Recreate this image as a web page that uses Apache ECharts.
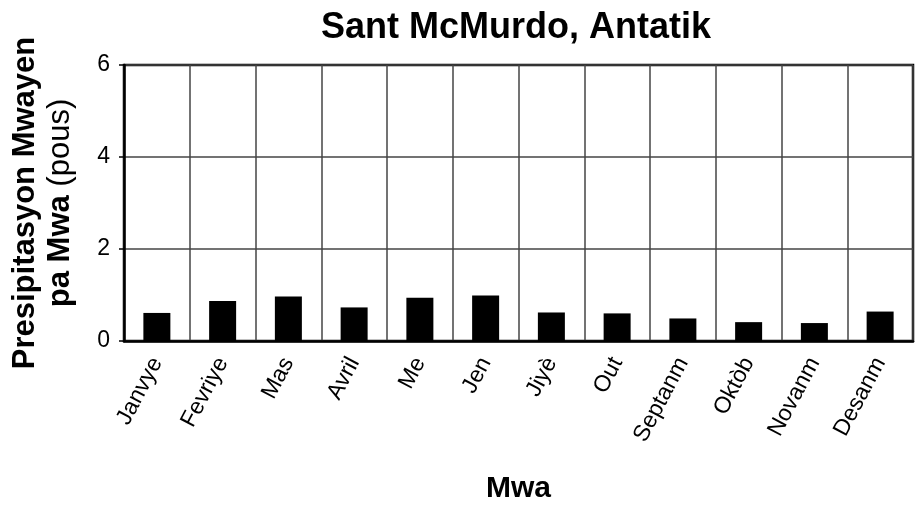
<!DOCTYPE html>
<html>
<head>
<meta charset="utf-8">
<script src="https://cdn.jsdelivr.net/npm/echarts@6/dist/echarts.min.js"></script>
<style>
html,body{margin:0;padding:0;background:#fff;}
#chart{width:921px;height:506px;}
</style>
</head>
<body>
<div id="chart"></div>
<script>
// mwa yo
var months = ['Janvye', 'Fevriye', 'Mas', 'Avril', 'Me', 'Jen', 'Jiyè', 'Out', 'Septanm', 'Oktòb', 'Novanm', 'Desanm'];
// presipitasyon (pous)
var precip = [0.61, 0.87, 0.97, 0.73, 0.94, 0.99, 0.62, 0.60, 0.49, 0.41, 0.39, 0.64];
var yTicks = [0, 2, 4, 6];

var font = '"Liberation Sans", Arial, Helvetica, sans-serif';
var chart = echarts.init(document.getElementById('chart'));

chart.setOption({
  animation: false,
  title: {
    text: 'Sant McMurdo, Antatik',
    left: 511,
    textAlign: 'center',
    top: 5,
    textStyle: {fontFamily: font, fontSize: 36, fontWeight: 'bold', color: '#000'}
  },
  grid: {
    left: 124, right: 8, top: 65, bottom: 165,
    containLabel: false, outerBoundsMode: 'none',
    show: true, borderColor: '#000', borderWidth: 2.5, backgroundColor: 'transparent'
  },
  xAxis: {
    type: 'category',
    data: months,
    name: 'Mwa',
    nameLocation: 'middle',
    nameGap: 133,
    nameTextStyle: {fontFamily: font, fontSize: 30, fontWeight: 'bold', color: '#000'},
    axisLine: {lineStyle: {color: '#000', width: 2.5}},
    axisTick: {show: false},
    splitLine: {show: true, lineStyle: {color: '#444', width: 1.5}},
    axisLabel: {
      rotate: 62, interval: 0, margin: 18,
      fontFamily: font, fontSize: 23, color: '#000'
    }
  },
  yAxis: {
    type: 'value',
    min: 0, max: 6, interval: 2,
    name: '{b|Presipitasyon Mwayen}\n{b|pa Mwa}{r| (pous)}',
    nameLocation: 'middle',
    nameGap: 46,
    nameTextStyle: {
      fontFamily: font, color: '#000', lineHeight: 35,
      rich: {
        b: {fontFamily: font, fontSize: 31, fontWeight: 'bold', color: '#000', lineHeight: 35},
        r: {fontFamily: font, fontSize: 31, fontWeight: 'normal', color: '#000', lineHeight: 35}
      }
    },
    axisLine: {show: true, lineStyle: {color: '#000', width: 2.5}},
    axisTick: {show: true, length: 5, lineStyle: {color: '#000', width: 1.5}},
    splitLine: {show: true, lineStyle: {color: '#444', width: 1.5}},
    axisLabel: {
      margin: 14, fontFamily: font, fontSize: 23, color: '#000',
      formatter: function (v) { return yTicks.indexOf(v) >= 0 ? String(v) : ''; }
    }
  },
  series: [{
    type: 'bar',
    data: precip,
    barWidth: 27,
    itemStyle: {color: '#000'}
  }]
});
</script>
</body>
</html>
